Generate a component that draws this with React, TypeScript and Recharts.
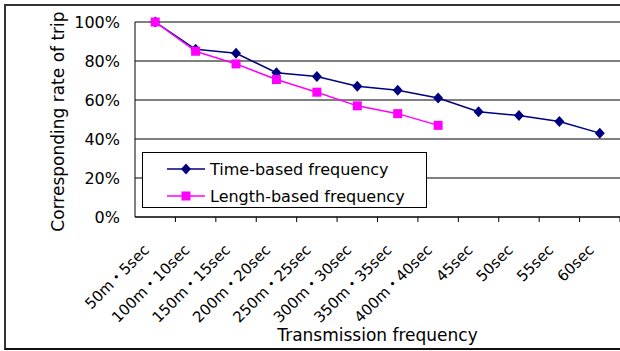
import { CartesianGrid, Line, LineChart, XAxis, YAxis } from 'recharts'

const categories = [
  '50m・5sec',
  '100m・10sec',
  '150m・15sec',
  '200m・20sec',
  '250m・25sec',
  '300m・30sec',
  '350m・35sec',
  '400m・40sec',
  '45sec',
  '50sec',
  '55sec',
  '60sec',
]
const timeBased = [100, 86, 84, 74, 72, 67, 65, 61, 54, 52, 49, 43]
const lengthBased = [100, 85, 78.5, 70.5, 64, 57, 53, 47]
const yTicks = [0, 20, 40, 60, 80, 100]

const series = [
  { key: 'time', name: 'Time-based frequency', color: '#000080', shape: 'diamond' },
  { key: 'length', name: 'Length-based frequency', color: '#ff00ff', shape: 'square' },
]

const data = categories.map((cat, i) => ({
  cat,
  time: timeBased[i],
  length: i < lengthBased.length ? lengthBased[i] : null,
}))

const FONT = '"DejaVu Sans", "Noto Sans CJK JP", sans-serif'
const HALF_BAND = (620 - 135) / categories.length / 2

function Marker({ cx, cy, shape, color }: any) {
  if (cx == null || cy == null) return null
  if (shape === 'diamond') {
    return (
      <polygon
        points={`${cx},${cy - 5.5} ${cx + 5},${cy} ${cx},${cy + 5.5} ${cx - 5},${cy}`}
        fill={color}
      />
    )
  }
  return <rect x={cx - 4.5} y={cy - 4.5} width={9} height={9} fill={color} />
}

function XTick({ x, y, payload }: any) {
  const ax = x - 5
  const ay = y + 29
  return (
    <g>
      <line x1={x + HALF_BAND} x2={x + HALF_BAND} y1={y - 5} y2={y} stroke="#000" />
      <text
        x={ax}
        y={ay}
        textAnchor="end"
        fontSize={15}
        fontFamily={FONT}
        fill="#000"
        transform={`rotate(-45, ${ax}, ${ay})`}
      >
        {payload.value}
      </text>
    </g>
  )
}

export default function App() {
  return (
    <div
      style={{
        position: 'absolute',
        left: 0,
        top: 0,
        width: 620,
        height: 351,
        overflow: 'hidden',
        background: '#fff',
        fontFamily: FONT,
      }}
    >
      <LineChart
        width={620}
        height={351}
        data={data}
        margin={{ top: 22, right: 0, left: 0, bottom: 0 }}
      >
        <CartesianGrid vertical={false} stroke="#000" />
        <XAxis
          dataKey="cat"
          scale="band"
          interval={0}
          height={134}
          tickSize={5}
          tickMargin={0}
          tickLine={false}
          axisLine={{ stroke: '#000' }}
          tick={<XTick />}
          label={{
            value: 'Transmission frequency',
            position: 'insideBottom',
            offset: 10,
            fill: '#000',
            fontSize: 17,
            fontFamily: FONT,
          }}
        />
        <YAxis
          domain={[0, 100]}
          ticks={yTicks}
          tickFormatter={(v) => `${v}%`}
          width={135}
          tickSize={0}
          tickMargin={15}
          tickLine={false}
          axisLine={{ stroke: '#000' }}
          tick={{ fill: '#000', fontSize: 16, fontFamily: FONT }}
          label={{
            value: 'Corresponding rate of trip',
            angle: -90,
            position: 'center',
            dx: -10,
            dy: 2,
            fill: '#000',
            fontSize: 17,
            fontFamily: FONT,
          }}
        />
        {series.map((s) => (
          <Line
            key={s.key}
            dataKey={s.key}
            name={s.name}
            stroke={s.color}
            strokeWidth={1.5}
            isAnimationActive={false}
            dot={(p: any) => <Marker key={p.index} cx={p.cx} cy={p.cy} shape={s.shape} color={s.color} />}
            activeDot={false}
          />
        ))}
      </LineChart>
      <div
        style={{
          position: 'absolute',
          left: 142,
          top: 152,
          width: 283,
          height: 54,
          border: '1px solid #000',
          background: '#fff',
        }}
      >
        {series.map((s, i) => (
          <div
            key={s.key}
            style={{
              position: 'absolute',
              left: 24,
              top: 4 + i * 27,
              height: 24,
              display: 'flex',
              alignItems: 'center',
              fontSize: 16,
              color: '#000',
              whiteSpace: 'nowrap',
            }}
          >
            <svg width={38} height={14} style={{ marginRight: 5 }}>
              <line x1={0} x2={38} y1={7} y2={7} stroke={s.color} strokeWidth={1.5} />
              <Marker cx={19} cy={7} shape={s.shape} color={s.color} />
            </svg>
            {s.name}
          </div>
        ))}
      </div>
      <div
        style={{
          position: 'absolute',
          left: 4,
          top: 4,
          width: 640,
          height: 342,
          borderLeft: '2px solid #333',
          borderTop: '2px solid #333',
          borderBottom: '2px solid #111',
          pointerEvents: 'none',
        }}
      />
    </div>
  )
}
